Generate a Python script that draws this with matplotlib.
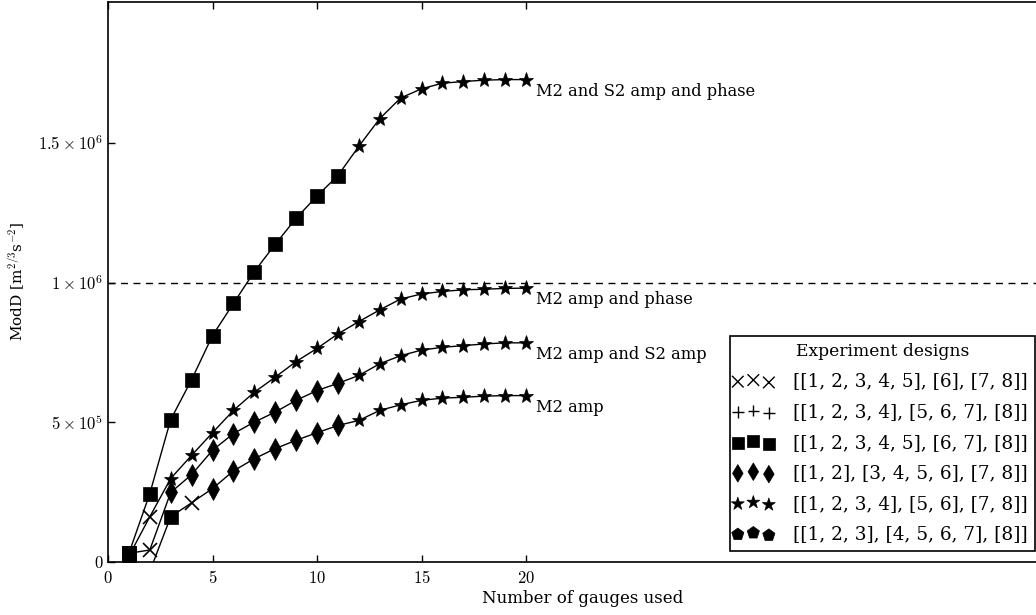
import numpy as np
import matplotlib
matplotlib.use("Agg")
import matplotlib.pyplot as plt
from matplotlib.ticker import FixedLocator, FuncFormatter
from matplotlib.legend_handler import HandlerPathCollection
from matplotlib.collections import PathCollection

plt.rcParams['font.family'] = 'DejaVu Serif'
plt.rcParams['mathtext.fontset'] = 'cm'

# data (ModD in units of 1e6)
gauges = list(range(1, 21))

amp_phase_both = [0.03, 0.244, 0.509, 0.652, 0.81, 0.925, 1.039, 1.137, 1.230, 1.310,
                  1.383, 1.488, 1.587, 1.661, 1.694, 1.714, 1.720, 1.725, 1.727, 1.727]
amp_phase_both_mk = ['s'] * 11 + ['*'] * 9

amp_phase_m2 = [0.02, 0.161, 0.298, 0.381, 0.462, 0.542, 0.607, 0.661, 0.717, 0.764,
                0.816, 0.860, 0.902, 0.941, 0.959, 0.968, 0.974, 0.976, 0.979, 0.980]
amp_phase_m2_mk = ['s', 'x'] + ['*'] * 18

amp_m2_s2 = [0.03, 0.042, 0.248, 0.312, 0.399, 0.459, 0.500, 0.536, 0.578, 0.613,
             0.639, 0.667, 0.709, 0.738, 0.758, 0.768, 0.774, 0.780, 0.784, 0.784]
amp_m2_s2_mk = ['s', 'x'] + ['d'] * 9 + ['*'] * 9

gauges_amp = list(range(2, 21))
amp_m2 = [-0.035, 0.161, 0.211, 0.262, 0.325, 0.369, 0.405, 0.435, 0.462, 0.488,
          0.506, 0.542, 0.562, 0.578, 0.586, 0.589, 0.593, 0.595, 0.595]
amp_m2_mk = ['x', 's', 'x'] + ['d'] * 7 + ['*'] * 9

curves = [
    (gauges, amp_phase_both, amp_phase_both_mk, "M2 and S2 amp and phase"),
    (gauges, amp_phase_m2, amp_phase_m2_mk, "M2 amp and phase"),
    (gauges, amp_m2_s2, amp_m2_s2_mk, "M2 amp and S2 amp"),
    (gauges_amp, amp_m2, amp_m2_mk, "M2 amp"),
]

threshold = 1.0

designs = ["[[1, 2, 3, 4, 5], [6], [7, 8]]",
           "[[1, 2, 3, 4], [5, 6, 7], [8]]",
           "[[1, 2, 3, 4, 5], [6, 7], [8]]",
           "[[1, 2], [3, 4, 5, 6], [7, 8]]",
           "[[1, 2, 3, 4], [5, 6], [7, 8]]",
           "[[1, 2, 3], [4, 5, 6, 7], [8]]"]
design_markers = ['x', '+', 's', 'd', '*', 'p']

msize = {'s': 9.5, '*': 11, 'd': 11, 'x': 9.5, '+': 9.5, 'p': 10}
ssize = {'s': 75, '*': 95, 'd': 80, 'x': 70, '+': 70, 'p': 85}

fig = plt.figure(figsize=(10.36, 6.15), dpi=100)
# axes run past the right edge of the figure, as in the cropped original
ax = fig.add_axes([108 / 1036, 53.3 / 615, 950 / 1036, 560 / 615])

for xs, ys, mks, label in curves:
    xs = np.array(xs)
    ys = np.array(ys) * 1e6
    mks = np.array(mks)
    ax.plot(xs, ys, '-', c='k', lw=1, zorder=2)
    for m in dict.fromkeys(mks):
        sel = mks == m
        mew = 1.2 if m in 'x+' else 0.5
        ax.plot(xs[sel], ys[sel], ls='none', marker=m, ms=msize[m], c='k',
                mec='k', mew=mew, zorder=3)
    ax.annotate(label, (xs[-1], ys[-1]), xytext=(7.5, -8.5), textcoords='offset points',
                ha='left', va='center', fontsize=11.7)

ax.axhline(threshold * 1e6, c='k', ls=(0, (5, 4)), lw=1, zorder=1)

ax.set_xlim(0, 950 / 20.9)
ax.set_ylim(0, 2.006e6)

ax.xaxis.set_major_locator(FixedLocator([0, 5, 10, 15, 20]))
ax.yaxis.set_major_locator(FixedLocator([0, 5e5, 1e6, 1.5e6]))
ax.xaxis.set_major_formatter(FuncFormatter(lambda v, p: r'$%d$' % v))
ytick_text = {0: r'$0$', 5e5: r'$5\times10^{5}$', 1e6: r'$1\times10^{6}$',
              1.5e6: r'$1.5\times10^{6}$'}
ax.yaxis.set_major_formatter(FuncFormatter(lambda v, p: ytick_text.get(v, '')))
ax.tick_params(direction='in', top=True, right=True, length=5, width=1, labelsize=12)
ax.tick_params(axis='x', pad=6)
for sp in ax.spines.values():
    sp.set_linewidth(1.2)

ax.set_xlabel("Number of gauges used", fontsize=12, labelpad=2)
ax.set_ylabel(r"ModD [m$^{2/3}$s$^{-2}$]", fontsize=11, labelpad=8)

handles = [ax.scatter([], [], marker=m, s=ssize[m], c='k',
                      linewidths=1.0 if m in 'x+' else 0.5) for m in design_markers]
leg = ax.legend(handles, designs, title="Experiment designs", loc='lower right',
                bbox_to_anchor=(1035 / 1036, (615 - 550.7) / 615),
                bbox_transform=fig.transFigure, borderaxespad=0, fontsize=13.3,
                title_fontsize=12.3, scatterpoints=3, fancybox=False, framealpha=1,
                edgecolor='k', handlelength=1.68, handletextpad=1.3, borderpad=0.4,
                labelspacing=0.68,
                handler_map={PathCollection: HandlerPathCollection(marker_pad=0.0)})
leg.get_frame().set_linewidth(1.2)

fig.savefig("out.png", dpi=100)
